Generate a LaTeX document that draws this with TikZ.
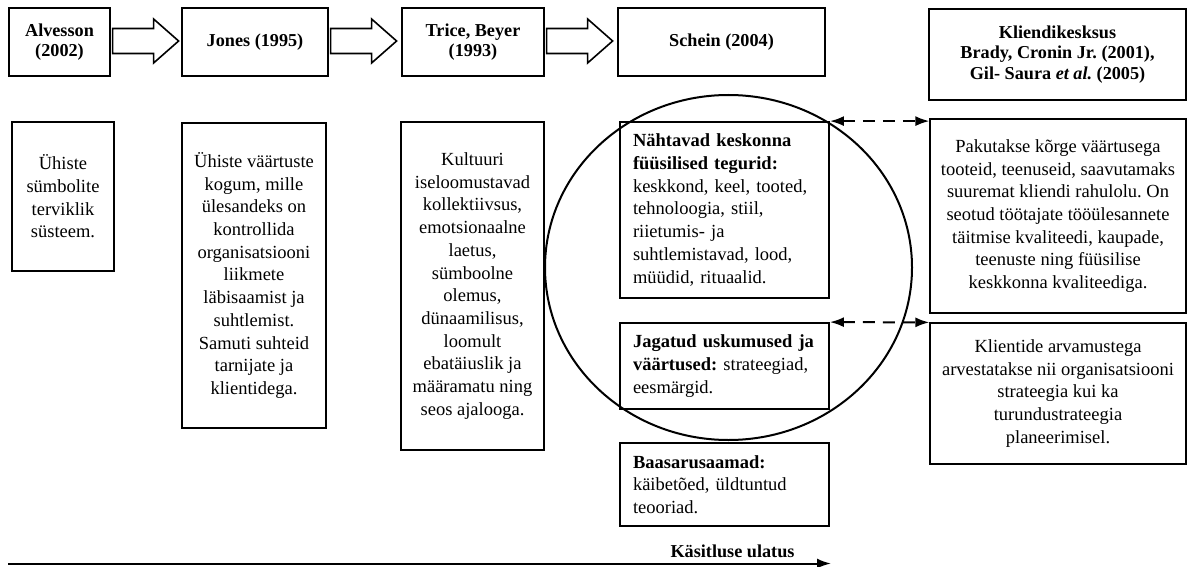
\documentclass[tikz,border=0pt]{standalone}
\usepackage{fontspec}
\setmainfont{Liberation Serif}
\frenchspacing
\usetikzlibrary{arrows.meta,shapes.geometric,calc}
\tikzset{
  txt/.style={font=\fontsize{18.5}{22.7}\selectfont, inner sep=2pt},
  headbox/.style={txt, draw, line width=1.2pt, align=center, font=\fontsize{18.2}{20}\selectfont\bfseries},
  descbox/.style={txt, draw, line width=2.2pt, align=center},
  scheinbox/.style={txt, draw, line width=1.8pt, align=left, text width=183pt, inner xsep=13pt},
  rightbox/.style={txt, draw, line width=1.2pt, align=center},
  blk/.style={draw, line width=1.6pt, fill=white, line join=miter},
  dasharr/.style={line width=2pt, dash pattern=on 12pt off 8pt, {Latex[length=14pt,width=10pt]}-{Latex[length=14pt,width=10pt]}},
  axisarr/.style={line width=2pt, -{Latex[length=14pt,width=10pt]}},
  circ/.style={draw, ellipse, line width=2pt}
}
\newcommand{\blockarr}[1]{%
  \draw[blk] ($(#1.east)+(2,-1)$) ++(0,-12.5) -- ++(41,0) -- ++(0,-9.5) -- ++(25,22) -- ++(-25,22) -- ++(0,-9.5) -- ++(-41,0) -- cycle;}
\begin{document}
\begin{tikzpicture}[x=1pt,y=-1pt]
\useasboundingbox (0,0) rectangle (1191,567);
% top row
\node[headbox, minimum width=101, minimum height=68] (alv) at (59.5,42) {Alvesson\\(2002)};
\node[headbox, minimum width=146, minimum height=68] (jon) at (255,42) {Jones (1995)};
\node[headbox, minimum width=142, minimum height=68] (tri) at (473,42) {Trice, Beyer\\(1993)};
\node[headbox, minimum width=207, minimum height=68] (sch) at (721.5,42) {Schein (2004)};
\node[headbox, minimum width=257, minimum height=91, font=\fontsize{18.2}{20.5}\selectfont\bfseries] (kli) at (1057.5,54.5) {Kliendikesksus\\Brady, Cronin Jr. (2001),\\Gil- Saura \textit{et al.} (2005)};
\blockarr{alv}
\blockarr{jon}
\blockarr{tri}
% second row
\node[descbox, minimum width=102, minimum height=149] (uhi) at (63,196.5) {Ühiste\\sümbolite\\terviklik\\süsteem.};
\node[descbox, minimum width=144, minimum height=305] (jond) at (254,275.5) {Ühiste väärtuste\\kogum, mille\\ülesandeks on\\kontrollida\\organisatsiooni\\liikmete\\läbisaamist ja\\suhtlemist.\\Samuti suhteid\\tarnijate ja\\klientidega.};
\node[descbox, line width=2pt, minimum width=143, minimum height=328] (trid) at (472.5,286) {Kultuuri\\iseloomustavad\\kollektiivsus,\\emotsionaalne\\laetus,\\sümboolne\\olemus,\\dünaamilisus,\\loomult\\ebatäiuslik ja\\määramatu ning\\seos ajalooga.};
% Schein column
\node[scheinbox, minimum height=176] (nah) at (724.5,210) {\textbf{Nähtavad keskonna}\\\textbf{füüsilised tegurid:}\\keskkond, keel, tooted,\\tehnoloogia, stiil,\\riietumis- ja\\suhtlemistavad, lood,\\müüdid, rituaalid.};
\node[scheinbox, minimum height=86] (jag) at (724.5,366) {\textbf{Jagatud uskumused ja}\\\textbf{väärtused:} strateegiad,\\eesmärgid.};
\node[scheinbox, minimum height=83] (baa) at (724.5,484.5) {\textbf{Baasarusaamad:}\\käibetõed, üldtuntud\\teooriad.};
\node[circ, minimum width=367, minimum height=345] (ring) at (728.5,267.5) {};
% right column
\node[rightbox, minimum width=256, minimum height=194] (pak) at (1058,216) {Pakutakse kõrge väärtusega\\tooteid, teenuseid, saavutamaks\\suuremat kliendi rahulolu. On\\seotud töötajate tööülesannete\\täitmise kvaliteedi, kaupade,\\teenuste ning füüsilise\\keskkonna kvaliteediga.};
\node[rightbox, minimum width=256, minimum height=141] (klt) at (1058,393.5) {Klientide arvamustega\\arvestatakse nii organisatsiooni\\strateegia kui ka\\turundustrateegia\\planeerimisel.};
% dashed links
\draw[dasharr] (nah.north east) -- (nah.north east -| klt.west);
\draw[dasharr] (jag.north east) -- (klt.north west);
% axis
\coordinate (axs) at (8,563.5);
\coordinate (axe) at (831,563.5);
\draw[axisarr] (axs) -- (axe);
\node[txt, font=\fontsize{18.2}{20}\selectfont\bfseries, anchor=base] (lab) at (732.5,557.5) {Käsitluse ulatus};
\end{tikzpicture}
\end{document}
